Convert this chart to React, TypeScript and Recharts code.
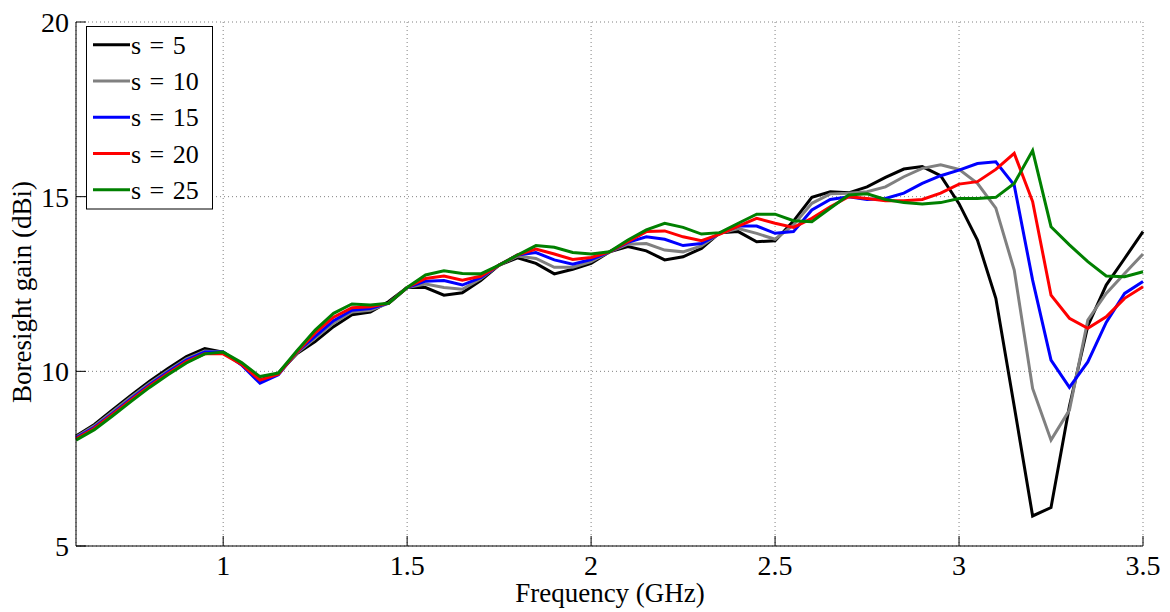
import { CartesianGrid, Legend, Line, LineChart, XAxis, YAxis } from 'recharts';

const FONT = "'Liberation Serif', 'Times New Roman', serif";

// frequency points (GHz)
const freqGHz = [
  0.6, 0.65, 0.7, 0.75, 0.8, 0.85, 0.9, 0.95, 1.0, 1.05, 1.1, 1.15,
  1.2, 1.25, 1.3, 1.35, 1.4, 1.45, 1.5, 1.55, 1.6, 1.65, 1.7, 1.75,
  1.8, 1.85, 1.9, 1.95, 2.0, 2.05, 2.1, 2.15, 2.2, 2.25, 2.3, 2.35,
  2.4, 2.45, 2.5, 2.55, 2.6, 2.65, 2.7, 2.75, 2.8, 2.85, 2.9, 2.95,
  3.0, 3.05, 3.1, 3.15, 3.2, 3.25, 3.3, 3.35, 3.4, 3.45, 3.5,
];

// boresight gain (dBi) per s value
const gainS5 = [
  8.15, 8.48, 8.9, 9.32, 9.72, 10.08, 10.42, 10.65, 10.55, 10.2, 9.75, 9.95,
  10.5, 10.85, 11.28, 11.62, 11.7, 12.0, 12.4, 12.4, 12.18, 12.25, 12.6, 13.04,
  13.25, 13.09, 12.79, 12.92, 13.09, 13.42, 13.57, 13.45, 13.19, 13.28, 13.52, 13.97,
  14.0, 13.71, 13.74, 14.3, 14.98, 15.14, 15.11, 15.28, 15.55, 15.79, 15.86, 15.6,
  14.8, 13.76, 12.09, 9.0, 5.86, 6.1, 9.0, 11.3, 12.47, 13.23, 14.0,
];
const gainS10 = [
  8.12, 8.44, 8.85, 9.27, 9.66, 10.02, 10.36, 10.58, 10.55, 10.2, 9.7, 9.93,
  10.52, 10.95, 11.38, 11.7, 11.75, 11.95, 12.4, 12.5, 12.4, 12.35, 12.65, 13.04,
  13.3, 13.23, 12.98, 12.98, 13.14, 13.42, 13.64, 13.66, 13.47, 13.42, 13.59, 13.95,
  14.09, 13.95, 13.78, 14.19, 14.81, 15.08, 15.1, 15.14, 15.28, 15.57, 15.81, 15.91,
  15.78, 15.38, 14.67, 12.9, 9.51, 8.03, 8.89, 11.47, 12.23, 12.8, 13.36,
];
const gainS15 = [
  8.1, 8.4, 8.8, 9.22, 9.62, 9.98, 10.32, 10.55, 10.55, 10.18, 9.66, 9.9,
  10.55, 11.0, 11.45, 11.75, 11.8, 11.95, 12.4, 12.58, 12.6, 12.47, 12.68, 13.04,
  13.33, 13.4, 13.19, 13.07, 13.2, 13.42, 13.69, 13.85, 13.78, 13.6, 13.66, 13.95,
  14.16, 14.16, 13.95, 14.0, 14.62, 14.92, 15.0, 14.92, 14.95, 15.1, 15.38, 15.6,
  15.76, 15.95, 16.0, 15.33, 12.61, 10.32, 9.54, 10.27, 11.4, 12.23, 12.57,
];
const gainS20 = [
  8.07, 8.37, 8.77, 9.18, 9.58, 9.94, 10.28, 10.5, 10.5, 10.2, 9.75, 9.92,
  10.55, 11.1, 11.55, 11.82, 11.85, 11.95, 12.4, 12.66, 12.73, 12.61, 12.72, 13.04,
  13.33, 13.5, 13.36, 13.2, 13.26, 13.42, 13.71, 14.0, 14.02, 13.85, 13.74, 13.93,
  14.16, 14.38, 14.24, 14.12, 14.38, 14.71, 15.0, 14.95, 14.88, 14.88, 14.92, 15.1,
  15.36, 15.43, 15.78, 16.24, 14.86, 12.18, 11.52, 11.23, 11.56, 12.09, 12.42,
];
const gainS25 = [
  8.03, 8.33, 8.73, 9.14, 9.54, 9.9, 10.24, 10.5, 10.55, 10.25, 9.85, 9.95,
  10.58, 11.18, 11.66, 11.93, 11.9, 11.95, 12.4, 12.76, 12.88, 12.8, 12.79, 13.04,
  13.33, 13.6, 13.55, 13.4, 13.36, 13.42, 13.76, 14.05, 14.24, 14.12, 13.93, 13.97,
  14.24, 14.5, 14.5, 14.31, 14.28, 14.67, 15.05, 15.08, 14.92, 14.83, 14.79, 14.83,
  14.95, 14.95, 14.98, 15.38, 16.32, 14.14, 13.62, 13.14, 12.73, 12.71, 12.85,
];

const xTicks = [1, 1.5, 2, 2.5, 3, 3.5];
const yTicks = [5, 10, 15, 20];

const series = [
  { key: 's5', name: 's = 5', color: '#000000', values: gainS5 },
  { key: 's10', name: 's = 10', color: '#808080', values: gainS10 },
  { key: 's15', name: 's = 15', color: '#0000ff', values: gainS15 },
  { key: 's20', name: 's = 20', color: '#ff0000', values: gainS20 },
  { key: 's25', name: 's = 25', color: '#008000', values: gainS25 },
];

const data = freqGHz.map((f, i) => {
  const row: Record<string, number> = { f };
  series.forEach((s) => {
    row[s.key] = s.values[i];
  });
  return row;
});

const ROW = 36.3;

// legend drawn as svg so it shares the serif font of the axes
function LegendBox() {
  const w = 126;
  const h = ROW * series.length + 1;
  return (
    <svg width={w + 1} height={h + 1} style={{ display: 'block' }}>
      <rect x={0.5} y={0.5} width={w} height={h} fill="#fff" stroke="#000" />
      {series.map((s, i) => {
        const cy = 0.5 + ROW * i + ROW / 2;
        return (
          <g key={s.key}>
            <line x1={7} x2={44} y1={cy} y2={cy} stroke={s.color} strokeWidth={3} />
            <text
              x={45}
              y={cy}
              dy="0.35em"
              fontFamily={FONT}
              fontSize={26}
              fill="#000"
              style={{ whiteSpace: 'pre', wordSpacing: 2 }}
            >
              {s.name}
            </text>
          </g>
        );
      })}
    </svg>
  );
}

function YTitle() {
  return (
    <text
      x={31}
      y={292}
      transform="rotate(-90 31 292)"
      textAnchor="middle"
      fontFamily={FONT}
      fontSize={27}
      fill="#000"
    >
      Boresight gain (dBi)
    </text>
  );
}

function XTitle() {
  return (
    <text x={610} y={602} textAnchor="middle" fontFamily={FONT} fontSize={27} fill="#000">
      Frequency (GHz)
    </text>
  );
}

const tickStyle = { fontFamily: FONT, fontSize: 28, fill: '#000' };

export default function App() {
  return (
    <div style={{ position: 'absolute', left: 0, top: 0, width: 1170, height: 612, background: '#fff' }}>
      <LineChart
        width={1170}
        height={612}
        data={data}
        margin={{ top: 22, right: 27, bottom: 0, left: 0 }}
      >
        <CartesianGrid stroke="#808080" strokeDasharray="1 3" />
        <XAxis
          dataKey="f"
          type="number"
          domain={[0.6, 3.5]}
          ticks={xTicks}
          interval={0}
          height={66}
          stroke="#000"
          tickSize={-10}
          tickMargin={19}
          tick={tickStyle}
          label={<XTitle />}
        />
        <XAxis
          xAxisId="top"
          orientation="top"
          dataKey="f"
          type="number"
          domain={[0.6, 3.5]}
          ticks={xTicks}
          interval={0}
          height={0}
          stroke="#000"
          tickSize={-10}
          tick={false}
        />
        <YAxis
          type="number"
          domain={[5, 20]}
          ticks={yTicks}
          interval={0}
          width={76}
          stroke="#000"
          tickSize={-10}
          tickMargin={17}
          tick={tickStyle}
          label={<YTitle />}
        />
        <YAxis
          yAxisId="right"
          orientation="right"
          type="number"
          domain={[5, 20]}
          ticks={yTicks}
          interval={0}
          width={0}
          stroke="#000"
          tickSize={-10}
          tick={false}
        />
        {series.map((s) => (
          <Line
            key={s.key}
            type="linear"
            dataKey={s.key}
            name={s.name}
            stroke={s.color}
            strokeWidth={3}
            dot={false}
            isAnimationActive={false}
          />
        ))}
        <Legend
          layout="horizontal"
          verticalAlign="middle"
          align="center"
          wrapperStyle={{ left: 86, top: 26, width: 'auto', height: 'auto' }}
          content={() => <LegendBox />}
        />
      </LineChart>
    </div>
  );
}
